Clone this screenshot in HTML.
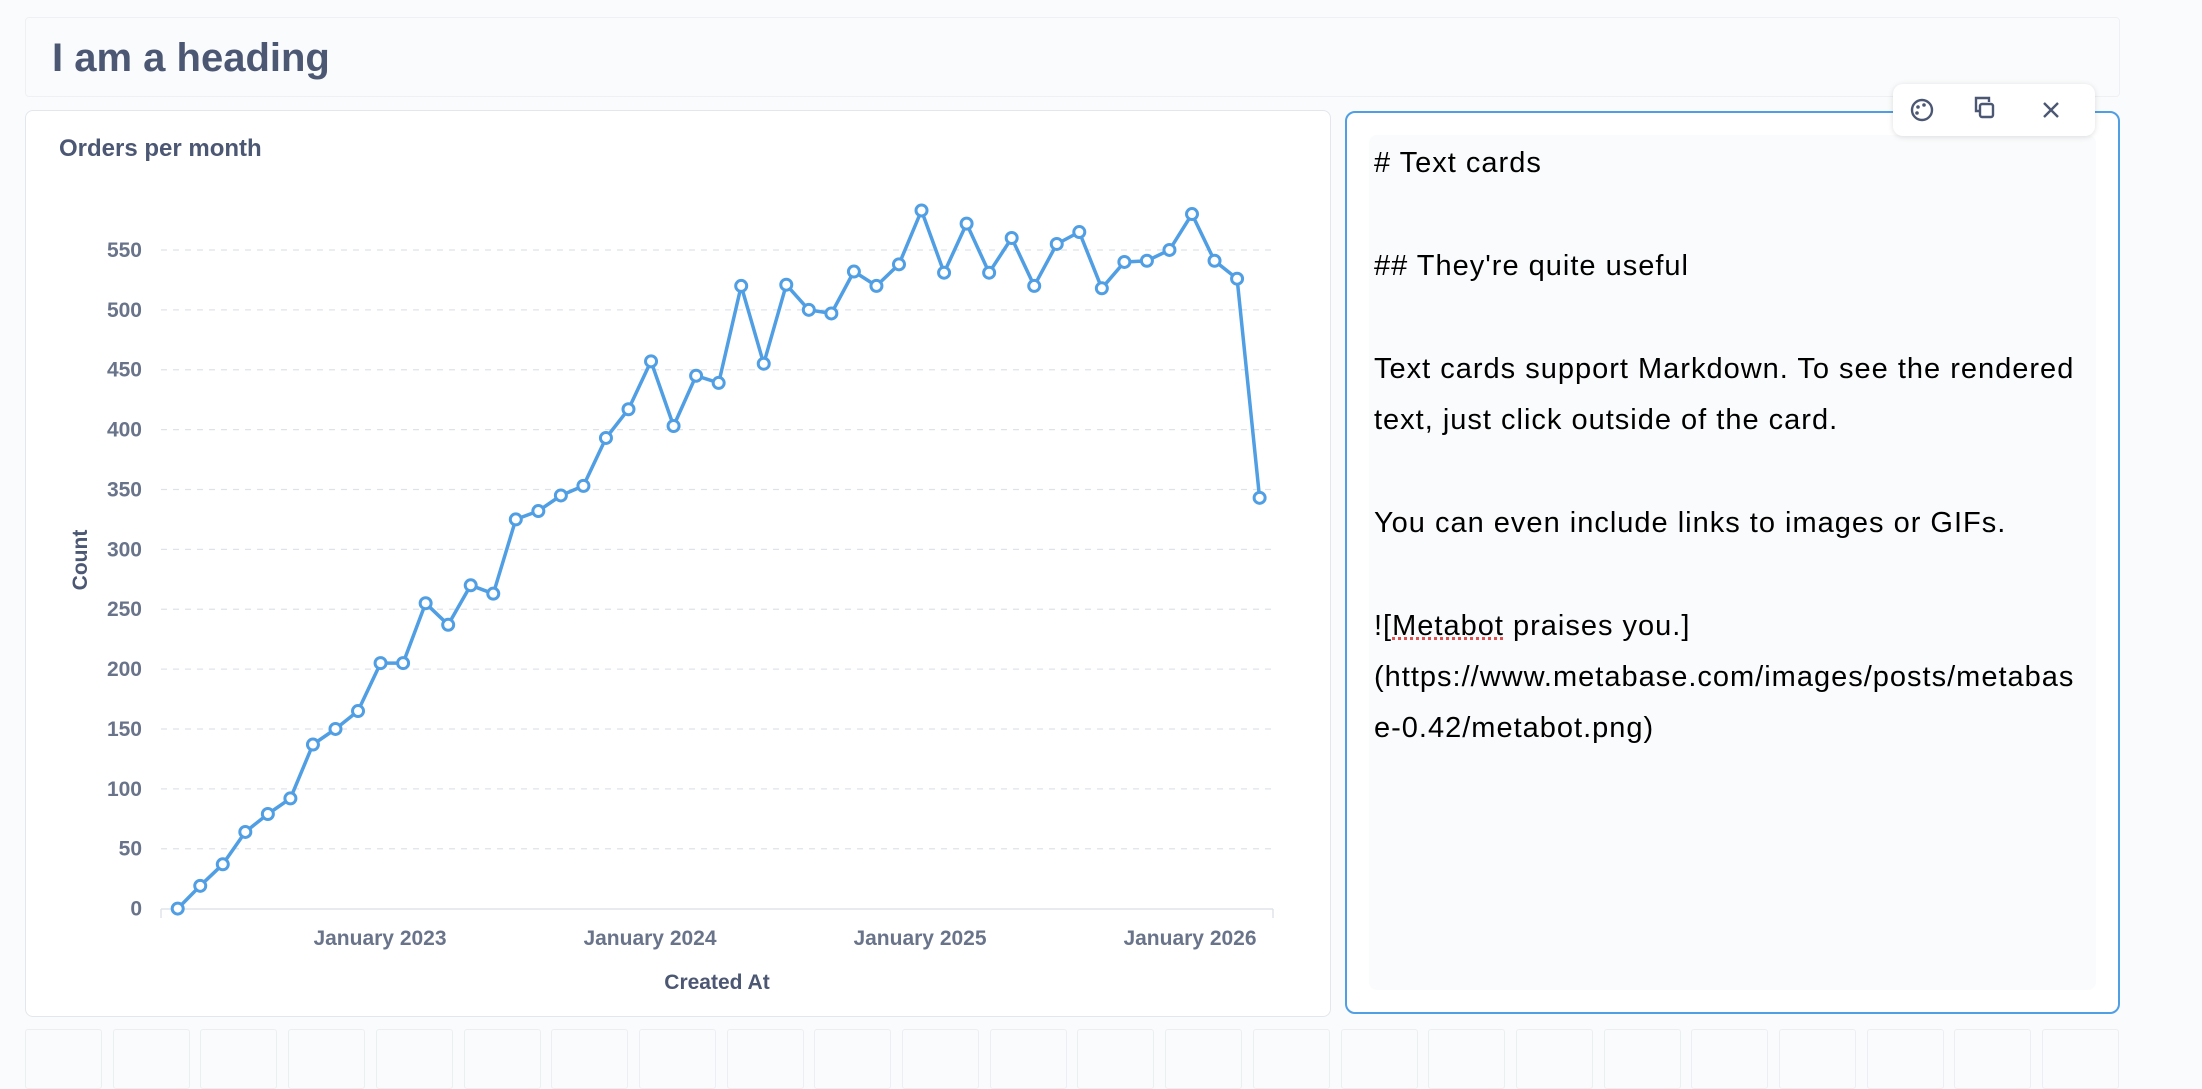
<!DOCTYPE html>
<html><head><meta charset="utf-8"><style>
html,body{margin:0;padding:0;width:2202px;height:1082px;overflow:hidden;background:#f9fbfc;font-family:"Liberation Sans",sans-serif;}
.abs{position:absolute;}
#head{left:25px;top:17px;width:2095px;height:80px;border:1px solid #eef0f3;border-radius:4px;box-sizing:border-box;}
#head span{position:absolute;left:26px;top:18px;font-size:40px;font-weight:bold;color:#4c5773;}
#chart{left:25px;top:110px;width:1306px;height:907px;background:#fff;border:1px solid #e3e7ec;border-radius:8px;box-sizing:border-box;}
#text{left:1345px;top:111px;width:775px;height:903px;background:#fff;border:2px solid #509ee3;border-radius:10px;box-sizing:border-box;}
#inner{left:1369px;top:135px;width:727px;height:855px;background:#f9fbfc;border-radius:8px;}
#md{left:1374px;top:138px;font-family:"Liberation Sans",sans-serif;font-size:29px;letter-spacing:1px;line-height:51.4px;color:#000;white-space:pre;}
#tb{left:1893px;top:84px;width:202px;height:52px;background:#fff;border-radius:10px;box-shadow:0 1px 6px rgba(0,0,0,.13);}
.cell{position:absolute;top:1029px;width:77px;height:60px;border:1px solid #eceff2;border-radius:3px;box-sizing:border-box;}
</style></head><body>
<div id="head" class="abs"><span>I am a heading</span></div>
<div id="chart" class="abs"></div>
<svg class="abs" style="left:0;top:0" width="2202" height="1082">
<text x="59" y="156" font-size="24" font-weight="bold" fill="#4c5773" font-family="Liberation Sans">Orders per month</text>
<g stroke="#dfe3e8" stroke-dasharray="6,6" stroke-width="1.3" id="grid"></g>
<line x1="161" y1="909" x2="1273" y2="909" stroke="#dfe3e8" stroke-width="1.5"/>
<line x1="161" y1="909" x2="161" y2="918" stroke="#dfe3e8" stroke-width="1.5"/>
<line x1="1273" y1="909" x2="1273" y2="918" stroke="#dfe3e8" stroke-width="1.5"/>
<g font-size="21" font-weight="bold" fill="#69748a" text-anchor="end" font-family="Liberation Sans" id="yl"></g>
<g font-size="21" font-weight="bold" fill="#69748a" text-anchor="middle" font-family="Liberation Sans">
<text x="380" y="945">January 2023</text><text x="650" y="945">January 2024</text><text x="920" y="945">January 2025</text><text x="1190" y="945">January 2026</text>
<text x="717" y="989" fill="#4c5773">Created At</text>
<text transform="translate(87,560) rotate(-90)" fill="#4c5773">Count</text>
</g>
<polyline id="pl" fill="none" stroke="#509ee3" stroke-width="3.5" stroke-linejoin="round"/>
<g id="dots" fill="#fff" stroke="#509ee3" stroke-width="3"></g>
</svg>
<div id="text" class="abs"></div>
<div id="inner" class="abs"></div>
<div id="md" class="abs"># Text cards

## They're quite useful

Text cards support Markdown. To see the rendered
text, just click outside of the card.

You can even include links to images or GIFs.

![<span style="text-decoration:underline dotted #e05050">Metabot</span> praises you.]
(https://www.metabase.com/images/posts/metabas
e-0.42/metabot.png)</div>
<div id="tb" class="abs">
<svg width="202" height="52" style="position:absolute;left:0;top:0">
<g fill="none" stroke="#4c5773" stroke-width="2.4">
<circle cx="29" cy="26" r="10"/>
<rect x="87" y="20" width="13" height="13" rx="2"/>
<path d="M87 27 h-4 v-13 h13 v4"/>
<path d="M151 19 l14 14 M165 19 l-14 14"/>
</g>
<g fill="#4c5773"><circle cx="25" cy="23" r="1.8"/><circle cx="31" cy="21" r="1.8"/><circle cx="24" cy="29" r="1.8"/></g>
</svg></div>
<div id="cells"></div>
<script>
var v=[0,19,37,64,79,92,137,150,165,205,205,255,237,270,263,325,332,345,353,393,417,457,403,445,439,520,455,521,500,497,532,520,538,583,531,572,531,560,520,555,565,518,540,541,550,580,541,526,343];
var ns="http://www.w3.org/2000/svg",pts=[],d=document.getElementById('dots');
v.forEach(function(a,i){var x=177.7+i*22.54,y=908.6-a*1.1975;pts.push(x.toFixed(1)+","+y.toFixed(1));
var c=document.createElementNS(ns,'circle');c.setAttribute('cx',x);c.setAttribute('cy',y);c.setAttribute('r',5.5);d.appendChild(c);});
document.getElementById('pl').setAttribute('points',pts.join(' '));
var g=document.getElementById('grid'),yl=document.getElementById('yl');
for(var k=0;k<=11;k++){var y=908.6-k*50*1.1975;
if(k>0){var l=document.createElementNS(ns,'line');l.setAttribute('x1',161);l.setAttribute('x2',1273);l.setAttribute('y1',y);l.setAttribute('y2',y);g.appendChild(l);}
var t=document.createElementNS(ns,'text');t.setAttribute('x',142);t.setAttribute('y',y+7);t.textContent=k*50;yl.appendChild(t);}
var cs=document.getElementById('cells');
for(var i=0;i<24;i++){var e=document.createElement('div');e.className='cell';e.style.left=(25+i*87.7)+'px';if(25+i*87.7<2120)cs.appendChild(e);}
</script>
</body></html>
